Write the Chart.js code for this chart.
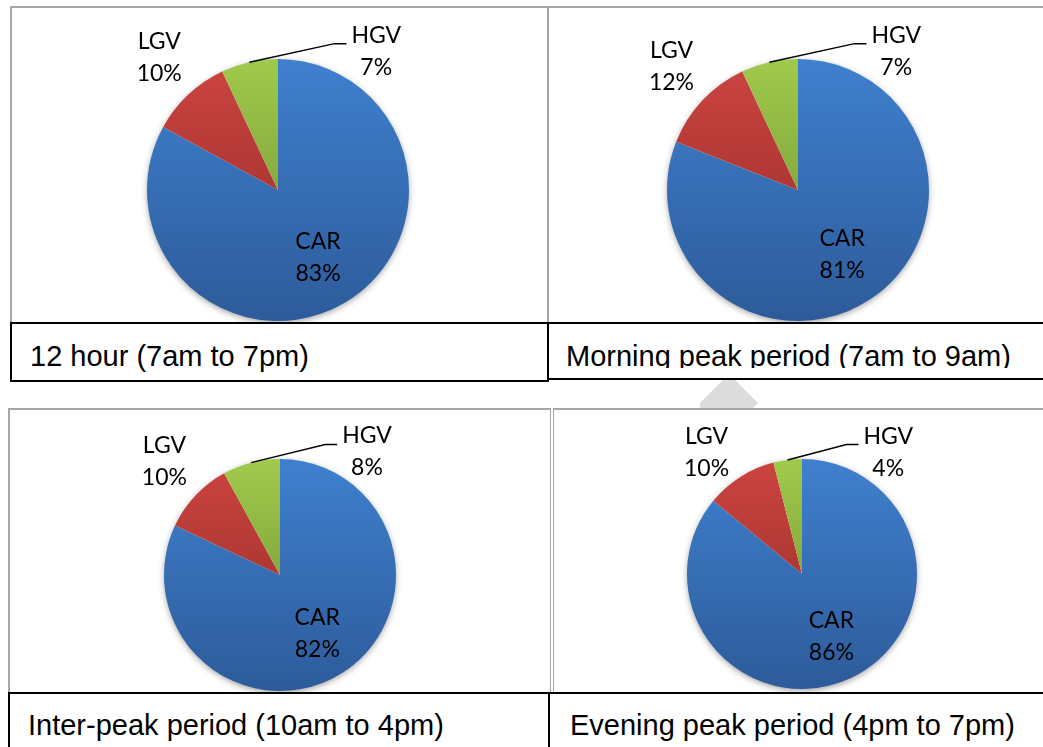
<!DOCTYPE html>
<html lang="en">
<head>
<meta charset="UTF-8">
<title>Traffic composition by period</title>
<script src="https://cdn.jsdelivr.net/npm/chart.js"></script>
<style>
    body {
        margin: 0;
        width: 1043px;
        height: 747px;
        overflow: hidden;
        position: relative;
        background: #fff;
        font-family: "Liberation Sans", Arial, sans-serif;
    }
    .box {
        position: absolute;
        box-sizing: border-box;
        background: #fff;
    }
    .plot {
        border-top: 2px solid #a6a6a6;
    }
    .caption {
        border: 2px solid #000;
        font-size: 29px;
        color: #000;
    }
    .caption .clip {
        position: absolute;
        left: 0;
        top: 0;
        right: 0;
        overflow: hidden;
    }
    .caption span {
        position: absolute;
        white-space: nowrap;
        line-height: 29px;
    }
    canvas {
        position: absolute;
    }
    #mark {
        position: absolute;
        left: 700px;
        top: 379px;
        width: 58px;
        height: 30px;
        background: #dcdcdc;
        clip-path: polygon(0 24px, 24px 0, 34px 0, 58px 24px, 52px 30px, 0 30px);
    }
</style>
</head>
<body>
    <div id="mark"></div>

    <!-- plot frames -->
    <div class="box plot" style="left:10px; top:6px; width:538px; height:317px; border-left:2px solid #a6a6a6; border-right:1px solid #a6a6a6;"></div>
    <div class="box plot" style="left:548px; top:6px; width:510px; height:317px; border-left:1px solid #a6a6a6;"></div>
    <div class="box plot" style="left:8px; top:408px; width:543px; height:286px; border-left:2px solid #a6a6a6; border-right:1px solid #a6a6a6;"></div>
    <div class="box plot" style="left:553px; top:408px; width:505px; height:286px; border-left:1px solid #a6a6a6;"></div>

    <!-- caption boxes -->
    <div class="box caption" style="left:10px; top:322px; width:539px; height:60px;">
        <div class="clip" style="height:56px;"><span id="cap0" style="left:18px; top:18px;"></span></div>
    </div>
    <div class="box caption" style="left:547px; top:322px; width:510px; height:58px;">
        <div class="clip" style="height:44px;"><span id="cap1" style="left:17px; top:18px;"></span></div>
    </div>
    <div class="box caption" style="left:8px; top:692px; width:542px; height:70px;">
        <div class="clip" style="height:66px;"><span id="cap2" style="left:18px; top:17px;"></span></div>
    </div>
    <div class="box caption" style="left:548px; top:692px; width:510px; height:70px;">
        <div class="clip" style="height:66px;"><span id="cap3" style="left:20px; top:17px;"></span></div>
    </div>

    <canvas id="pie0" style="left:12px; top:8px;" width="533" height="314"></canvas>
    <canvas id="pie1" style="left:549px; top:8px;" width="494" height="314"></canvas>
    <canvas id="pie2" style="left:10px; top:410px;" width="540" height="282"></canvas>
    <canvas id="pie3" style="left:554px; top:410px;" width="489" height="282"></canvas>

<script>
'use strict';
// ---- data ----
var categories = ['CAR', 'LGV', 'HGV'];
var periods = [
    '12 hour (7am to 7pm)',
    'Morning peak period (7am to 9am)',
    'Inter-peak period (10am to 4pm)',
    'Evening peak period (4pm to 7pm)'
];
var share12Hour = [83, 10, 7];
var shareMorningPeak = [81, 12, 7];
var shareInterPeak = [82, 10, 8];
var shareEveningPeak = [86, 10, 4];
var allShares = [share12Hour, shareMorningPeak, shareInterPeak, shareEveningPeak];

// ---- styling ----
var topColours = ['#3f80ce', '#cd4440', '#a0ca4c'];
var bottomColours = ['#2d5b9a', '#8e2a27', '#6a8a2e'];
// pie centre x, y and radius in page pixels
var pieGeometry = [
    [278, 190, 131],
    [798, 190, 131],
    [280, 575, 116],
    [802, 574, 115]
];
var labelFont = '23px Lato';
var lineGap = 32;

function sliceFill(context) {
    var chart = context.chart;
    var area = chart.chartArea;
    var i = context.dataIndex;
    if (!area) return topColours[i];
    var g = chart.ctx.createLinearGradient(0, area.top, 0, area.bottom);
    g.addColorStop(0, topColours[i]);
    g.addColorStop(1, bottomColours[i]);
    return g;
}

// soft shadow under the whole pie
var pieShadow = {
    id: 'pieShadow',
    beforeDatasetsDraw: function(chart) {
        var arc = chart.getDatasetMeta(0).data[0];
        if (!arc) return;
        var ctx = chart.ctx;
        ctx.save();
        ctx.shadowColor = 'rgba(0,0,0,0.45)';
        ctx.shadowBlur = 7;
        ctx.shadowOffsetY = 2;
        ctx.beginPath();
        ctx.arc(arc.x, arc.y, arc.outerRadius - 1, 0, Math.PI * 2);
        ctx.fillStyle = '#fff';
        ctx.fill();
        ctx.restore();
    }
};

// category + percentage labels, leader line for the small slice
var sliceLabels = {
    id: 'sliceLabels',
    afterDatasetsDraw: function(chart) {
        var ctx = chart.ctx;
        var arcs = chart.getDatasetMeta(0).data;
        var values = chart.data.datasets[0].data;
        ctx.save();
        ctx.font = labelFont;
        ctx.fillStyle = '#000';
        ctx.textAlign = 'center';
        ctx.textBaseline = 'middle';
        arcs.forEach(function(arc, i) {
            var p = arc.getProps(['x', 'y', 'startAngle', 'endAngle', 'outerRadius'], true);
            var r = p.outerRadius;
            var mid = (p.startAngle + p.endAngle) / 2;
            var cos = Math.cos(mid), sin = Math.sin(mid);
            var halfW = Math.max(ctx.measureText(categories[i]).width, ctx.measureText(values[i] + '%').width) / 2;
            var halfH = lineGap / 2 + 14;
            var topLimit = p.y - r * 1.06;
            var lx, ly;
            if (i === 0) {
                lx = p.x + cos * r * 0.6;
                ly = p.y + sin * r * 0.6;
            } else if (i === 1) {
                // outside end: box pushed out past the rim
                lx = p.x + cos * (r + 20) + cos * halfW;
                ly = p.y + sin * (r + 20) + sin * halfH;
                if (ly < topLimit) {
                    ly = topLimit;
                    var dy = ly + halfH - p.y;
                    while (Math.hypot(lx + halfW - p.x, dy) < r + 2) lx -= 1;
                }
            } else {
                lx = p.x + r * 0.75;
                ly = topLimit;
                var textLeft = lx - ctx.measureText(categories[i]).width / 2;
                var elbowY = ly - lineGap / 2 + 8.5;
                ctx.beginPath();
                ctx.moveTo(p.x + cos * r, p.y + sin * r);
                ctx.lineTo(textLeft - 17, elbowY);
                ctx.lineTo(textLeft - 5, elbowY);
                ctx.strokeStyle = '#000';
                ctx.lineWidth = 1.5;
                ctx.stroke();
            }
            ctx.fillText(categories[i], lx, ly - lineGap / 2);
            ctx.fillText(values[i] + '%', lx, ly + lineGap / 2);
        });
        ctx.restore();
    }
};

function drawPie(n) {
    var canvas = document.getElementById('pie' + n);
    var left = parseFloat(canvas.style.left);
    var top = parseFloat(canvas.style.top);
    var g = pieGeometry[n];
    var cx = g[0] - left, cy = g[1] - top, r = g[2];
    document.getElementById('cap' + n).textContent = periods[n];
    new Chart(canvas.getContext('2d'), {
        type: 'pie',
        data: {
            labels: categories,
            datasets: [{
                data: allShares[n],
                backgroundColor: sliceFill,
                borderWidth: 0,
                hoverOffset: 0,
                offset: 0
            }]
        },
        options: {
            responsive: false,
            animation: false,
            events: [],
            layout: {
                padding: {
                    left: cx - r,
                    top: cy - r,
                    right: canvas.width - (cx + r),
                    bottom: canvas.height - (cy + r)
                }
            },
            plugins: {
                legend: { display: false },
                tooltip: { enabled: false }
            }
        },
        plugins: [pieShadow, sliceLabels]
    });
}

function drawAll() {
    for (var n = 0; n < 4; n++) drawPie(n);
}

if (document.fonts && document.fonts.load) {
    document.fonts.load(labelFont).then(drawAll, drawAll);
} else {
    drawAll();
}
</script>
</body>
</html>
